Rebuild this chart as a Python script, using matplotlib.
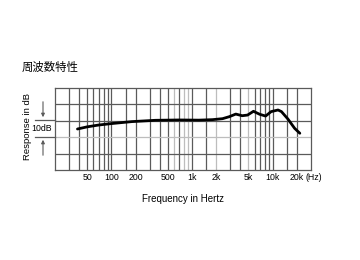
import matplotlib
matplotlib.use("Agg")
import matplotlib.pyplot as plt
import numpy as np

plt.rcParams['font.family'] = ['Liberation Sans', 'Noto Sans CJK JP', 'DejaVu Sans']

# Data (Hz, relative dB on a 0-50 scale)
freq = [38, 50, 69, 100, 179, 351, 688, 1220, 1800, 2400, 2900, 3500, 4200,
        4900, 5800, 6900, 8200, 9600, 11700, 12900, 15500, 18800, 21800]
resp = [25.0, 26.3, 27.4, 28.3, 29.5, 30.3, 30.5, 30.4, 30.7, 31.3, 32.5, 34.1, 33.1,
        33.5, 35.8, 34.0, 32.9, 35.6, 36.6, 35.6, 31.1, 25.4, 22.4]

tick_vals = [50, 100, 200, 500, 1000, 2000, 5000, 10000, 20000]
tick_labels = ["50", "100", "200", "500", "1k", "2k", "5k", "10k", "20k"]

fig = plt.figure(figsize=(3.6, 2.6), dpi=100)
ax = fig.add_axes([55/360, 1-170/260, (311-55)/360, (170-88)/260])
ax.set_xscale('log')
ax.set_xlim(20, 30000)
ax.set_ylim(0, 50)

dark = '#5a5a5a'
gray = '#bdbdbd'
grid_f = [30, 40, 50, 60, 70, 80, 90, 100, 150, 200, 300, 400, 500, 600, 700, 800, 900,
          1000, 1500, 2000, 3000, 4000, 5000, 6000, 7000, 8000, 9000, 10000, 15000, 20000]
gray_f = {600, 800, 900, 2000, 5000}
for f in grid_f:
    ax.axvline(f, color=gray if f in gray_f else dark, lw=0.9, zorder=1)
for yv in [10, 20, 30, 40]:
    ax.axhline(yv, color=gray if yv == 20 else dark, lw=0.9, zorder=1)
for s in ax.spines.values():
    s.set_color(dark)
    s.set_linewidth(0.9)

ax.plot(freq, resp, color='black', lw=2.0, zorder=3, solid_capstyle='round')

ax.set_yticks([])
ax.set_xticks(tick_vals)
ax.set_xticklabels(tick_labels, fontsize=6.3, fontweight='medium')
ax.xaxis.set_minor_locator(matplotlib.ticker.NullLocator())
ax.tick_params(axis='x', length=0, pad=2)

fig.text(305/360, 1-177.5/260, "(Hz)", fontsize=6.3, ha='left', va='center')
fig.text(183/360, 1-199/260, "Frequency in Hertz", fontsize=7, ha='center', va='center')
fig.text(28/360, 1-126/260, "Response in dB", fontsize=6.8, rotation=90,
         ha='center', va='center')
fig.text(22/360, 1-67/260, "周波数特性", fontsize=8.2, ha='left', va='center',
         family=['Noto Sans CJK JP', 'DejaVu Sans'])

# 10 dB scale marker
fig.text(42/360, 1-128.5/260, "10dB", fontsize=6.3, ha='center', va='center')
tr = fig.transFigure
def px(x, y):
    return (x/360, 1-y/260)
for yy in (120, 137):
    fig.add_artist(matplotlib.lines.Line2D([35/360, 55/360], [1-yy/260, 1-yy/260],
                                           transform=tr, color=dark, lw=0.9))
ax.annotate("", xy=px(43, 120), xytext=px(43, 99), xycoords=tr, textcoords=tr,
            arrowprops=dict(arrowstyle='-|>', color=dark, lw=0.8, mutation_scale=5))
ax.annotate("", xy=px(43, 137), xytext=px(43, 158), xycoords=tr, textcoords=tr,
            arrowprops=dict(arrowstyle='-|>', color=dark, lw=0.8, mutation_scale=5))

fig.savefig("out.png", dpi=100, facecolor='white')
